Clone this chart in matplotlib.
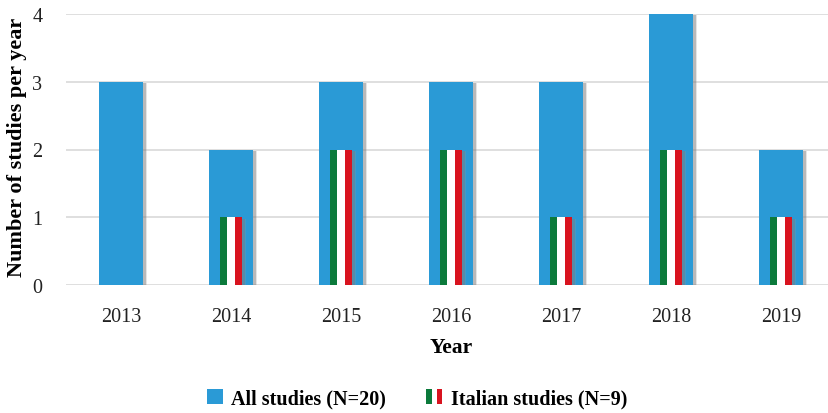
import matplotlib
matplotlib.use("Agg")
import matplotlib.pyplot as plt
import matplotlib.patheffects as pe
from matplotlib.patches import Patch
from matplotlib.legend_handler import HandlerTuple
import numpy as np

years = ["2013", "2014", "2015", "2016", "2017", "2018", "2019"]
all_studies = [3, 2, 3, 3, 3, 4, 2]
italian_studies = [0, 1, 2, 2, 1, 2, 1]

blue = "#2A9AD6"
green = "#0B7A3B"
white = "#FFFFFF"
red = "#D8131F"

plt.rcParams["font.family"] = "Liberation Serif"

fig = plt.figure(figsize=(8.29, 4.14), dpi=100)
ax = fig.add_axes([66 / 829, 1 - 286 / 414, 770 / 829, 271 / 414])

x = np.arange(len(years))
# soft drop shadow on the right of each bar
shadow = [pe.SimplePatchShadow(offset=(3, -1), shadow_rgbFace="#999999", alpha=0.25),
          pe.SimplePatchShadow(offset=(2, -1), shadow_rgbFace="#777777", alpha=0.4),
          pe.Normal()]

ax.bar(x, all_studies, width=0.4, color=blue, zorder=2, path_effects=shadow)

# tricolour bars: three stripes side by side
sw = 0.2 / 3
ax.bar(x - sw, italian_studies, width=sw, color=green, zorder=3)
ax.bar(x, italian_studies, width=sw, color=white, zorder=3)
ax.bar(x + sw, italian_studies, width=sw, color=red, zorder=3, path_effects=shadow)

ax.set_xlim(-0.5, len(years) - 0.5)
ax.set_ylim(0, 4)
ax.set_yticks([0, 1, 2, 3, 4])
ax.set_xticks(x)
ax.set_xticklabels(years)
ax.yaxis.grid(True, color="#D9D9D9", linewidth=1.2, zorder=0)
ax.set_axisbelow(True)
for s in ax.spines.values():
    s.set_visible(False)
ax.tick_params(axis="both", length=0, labelsize=14.5, colors="#222222")
ax.tick_params(axis="y", pad=17)
ax.tick_params(axis="x", pad=16)

ax.set_ylabel("Number of studies per year", fontsize=16, fontweight="bold")
ax.yaxis.set_label_coords(-0.051, 0.51)
ax.set_xlabel("Year", fontsize=15.5, fontweight="bold", labelpad=8)

h_all = Patch(facecolor=blue)
h_ita = (Patch(facecolor=green), Patch(facecolor=white), Patch(facecolor=red))
fig.legend([h_all, h_ita], ["All studies (N=20)", "Italian studies (N=9)"],
           handler_map={tuple: HandlerTuple(ndivide=None, pad=0)},
           loc="center", bbox_to_anchor=(0.503, 0.035), ncol=2, frameon=False,
           prop={"weight": "bold", "size": 14.5}, handlelength=0.8, handleheight=0.8,
           columnspacing=2.0, handletextpad=0.4)

fig.savefig("out.png", dpi=100)
